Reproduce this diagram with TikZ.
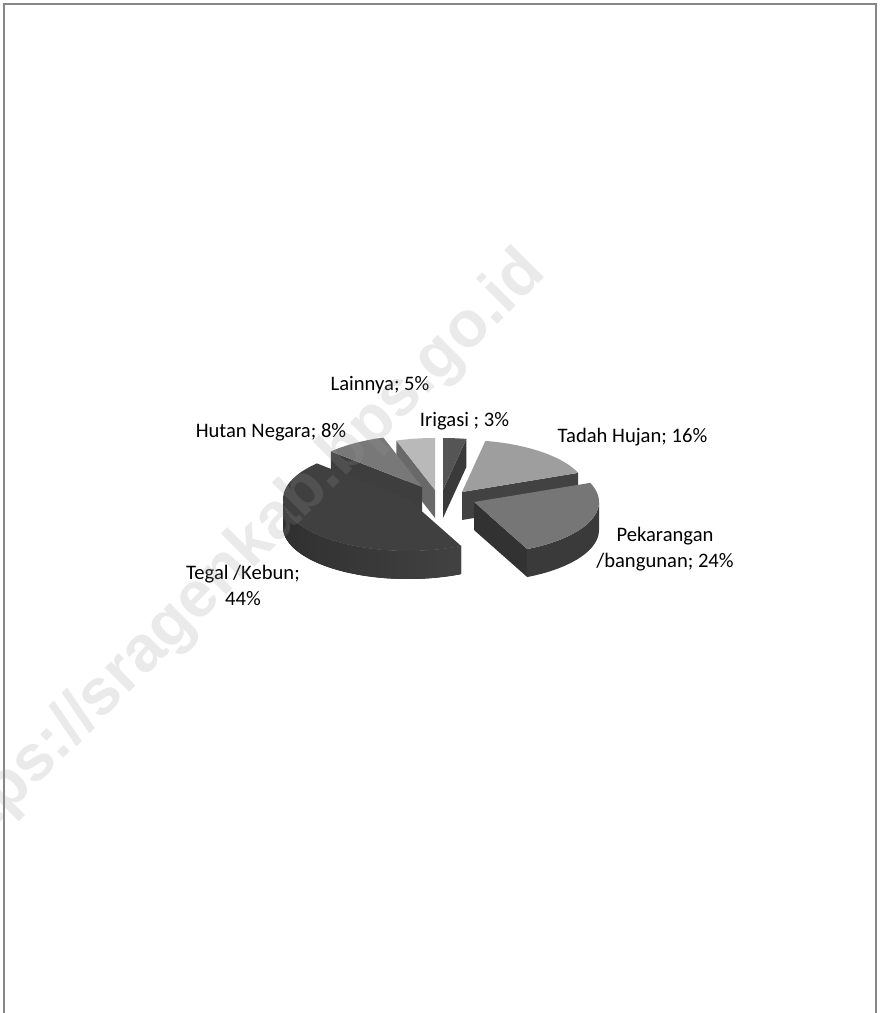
\documentclass[tikz,border=0pt]{standalone}
\usepackage{fontspec}
\setmainfont{Carlito}
\newfontfamily\wmfont{Liberation Sans}
\definecolor{framegray}{RGB}{135,135,135}
\definecolor{wmgray}{RGB}{150,150,150}
\definecolor{lainTop}{RGB}{185,185,185}
\definecolor{lainSide}{RGB}{105,105,105}
\definecolor{iriTop}{RGB}{85,85,85}
\definecolor{iriSide}{RGB}{58,58,58}
\definecolor{hutTop}{RGB}{120,120,120}
\definecolor{hutSide}{RGB}{62,62,62}
\definecolor{tadTop}{RGB}{158,158,158}
\definecolor{tadSide}{RGB}{66,66,66}
\definecolor{tegTop}{RGB}{64,64,64}
\definecolor{tegSideA}{RGB}{48,48,48}
\definecolor{tegSideB}{RGB}{66,66,66}
\definecolor{pekTop}{RGB}{118,118,118}
\definecolor{pekSide}{RGB}{50,50,50}
\definecolor{pekOuter}{RGB}{58,58,58}
% top face of a slice: tip x, tip y, start angle, end angle, style
\newcommand{\pietop}[5]{\fill[#5] (#1,#2) -- plot[domain=#3:#4,samples=40,variable=\t] ({#1+125*sin(\t)},{#2-52*cos(\t)}) -- cycle;}
% flat cut face of a slice at a given angle
\newcommand{\piecut}[4]{\fill[#4] (#1,#2) -- ({#1+125*sin(#3)},{#2-52*cos(#3)}) -- ({#1+125*sin(#3)},{#2+28-52*cos(#3)}) -- (#1,#2+28) -- cycle;}
% curved outer side of a slice
\newcommand{\pieside}[5]{\fill[#5] plot[domain=#3:#4,samples=40,variable=\t] ({#1+125*sin(\t)},{#2-52*cos(\t)}) -- plot[domain=#4:#3,samples=40,variable=\t] ({#1+125*sin(\t)},{#2+28-52*cos(\t)}) -- cycle;}
\begin{document}
\begin{tikzpicture}[x=0.5pt,y=-0.5pt,
  lbl/.style={font=\fontsize{10.3}{13}\selectfont, text=black, inner sep=0pt},
  wm/.style={font=\wmfont\bfseries\fontsize{32.5}{38}\selectfont, text=wmgray, text opacity=0.2, inner sep=0pt},
  pageframe/.style={draw=framegray, line width=1pt}]
\useasboundingbox (0,0) rectangle (880,1013);
\fill[white] (0,0) rectangle (880,1013);
\draw[pageframe] (4,1014) -- (4,4) -- (876,4) -- (876,1014);
% Lainnya 342-360
\piecut{435}{490}{342}{lainSide}
\pietop{435}{490}{342}{360}{lainTop}
% Hutan Negara 313.2-342
\piecut{422}{487}{313.2}{hutSide}
\pietop{422}{487}{313.2}{342}{hutTop}
% Irigasi 0-10.8
\piecut{443}{490}{10.8}{iriSide}
\pietop{443}{490}{0}{10.8}{iriTop}
% Tadah Hujan 10.8-68.4
\piecut{462}{492}{68.4}{tadSide}
\pietop{462}{492}{10.8}{68.4}{tadTop}
% Tegal /Kebun 154.8-313.2
\pieside{408}{499}{154.8}{270}{left color=tegSideA, right color=tegSideB}
\pietop{408}{499}{154.8}{313.2}{tegTop}
% Pekarangan 68.4-154.8
\piecut{474}{502}{154.8}{pekSide}
\pieside{474}{502}{90}{154.8}{pekOuter}
\pietop{474}{502}{68.4}{154.8}{pekTop}
% labels
\node[lbl, anchor=base] (lain) at (380,390) {Lainnya; 5\%};
\node[lbl, anchor=base] (iri) at (464.5,426) {Irigasi ; 3\%};
\node[lbl, anchor=base] (tadah) at (632.5,442) {Tadah Hujan; 16\%};
\node[lbl, anchor=base] (hutan) at (271,437) {Hutan Negara; 8\%};
\node[lbl, align=center] (pek) at (665,549) {Pekarangan\\/bangunan; 24\%};
\node[lbl, align=center] (teg) at (243,585) {Tegal /Kebun;\\44\%};
% watermark
\begin{scope}
\clip (0,0) rectangle (880,1013);
\node[wm, anchor=base east, rotate=45] (wmark) at (548,274) {https://sragenkab.bps.go.id};
\end{scope}
\end{tikzpicture}
\end{document}
